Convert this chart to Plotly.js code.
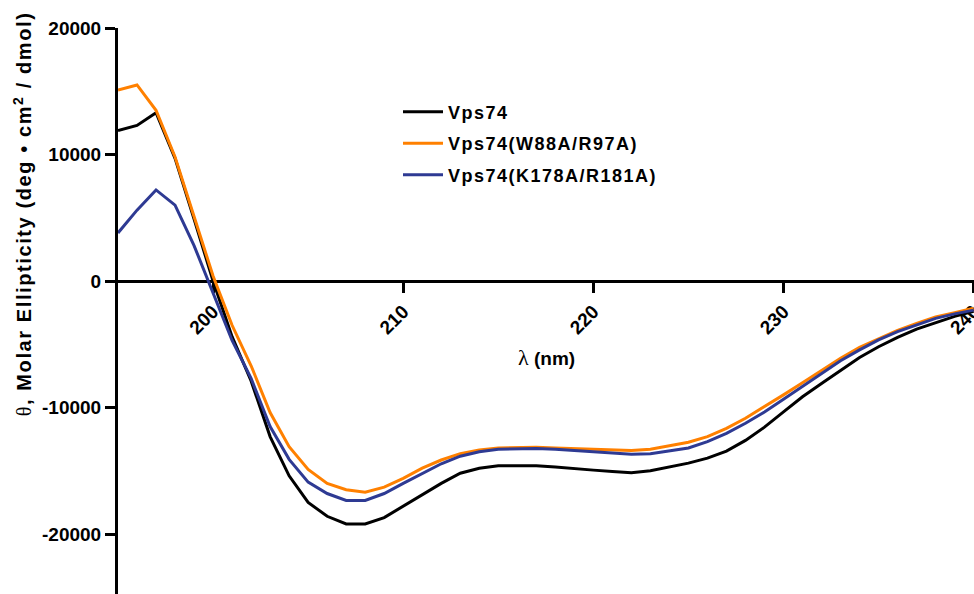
<!DOCTYPE html>
<html>
<head>
<meta charset="utf-8">
<script src="https://cdn.plot.ly/plotly-3.0.1.min.js"></script>
<style>
  html, body { margin: 0; padding: 0; background: #fff; overflow: hidden; }
  #chart { width: 986px; height: 594px; }
  .legendtext { letter-spacing: 1.5px; }
  g.annotation[data-index="0"] text { letter-spacing: 1.6px; }
</style>
</head>
<body>
<div id="chart"></div>
<script>
const wavelength = [195,196,197,198,199,200,201,202,203,204,205,206,207,208,209,210,211,212,213,214,215,216,217,218,219,220,221,222,223,224,225,226,227,228,229,230,231,232,233,234,235,236,237,238,239,240];

const vps74 = [11900,12300,13300,9700,4900,0,-4400,-7900,-12300,-15400,-17500,-18600,-19200,-19200,-18700,-17800,-16900,-16000,-15200,-14800,-14600,-14600,-14600,-14700,-14850,-14950,-15050,-15150,-15000,-14700,-14400,-14000,-13450,-12600,-11550,-10350,-9150,-8100,-7050,-6050,-5200,-4450,-3800,-3300,-2800,-2400];

const vps74W88A = [15100,15500,13500,9800,5100,400,-3500,-6700,-10400,-13100,-14900,-16000,-16500,-16700,-16300,-15600,-14800,-14150,-13650,-13350,-13200,-13150,-13150,-13200,-13250,-13300,-13400,-13400,-13300,-13050,-12750,-12300,-11650,-10850,-9950,-9000,-8050,-7050,-6100,-5250,-4550,-3900,-3350,-2850,-2500,-2150];

const vps74K178A = [3800,5600,7200,6000,2800,-900,-4700,-7700,-11500,-14100,-15900,-16800,-17350,-17350,-16800,-16000,-15200,-14450,-13850,-13500,-13300,-13250,-13250,-13300,-13400,-13500,-13600,-13700,-13650,-13450,-13200,-12700,-12050,-11250,-10350,-9350,-8350,-7300,-6300,-5450,-4650,-4000,-3450,-2950,-2600,-2300];

const seriesNames = ['Vps74', 'Vps74(W88A/R97A)', 'Vps74(K178A/R181A)'];
const seriesColors = ['#000000', '#ff8000', '#2e3a93'];
const xTicks = [200, 210, 220, 230, 240];
const yTicks = [-20000, -10000, 0, 10000, 20000];
const yTickText = ['-20000', '-10000', '0', '10000', '20000'];

const yMin = -24743, yMax = 20000;
const xMin = 195, xMax = 240.65;
const xZeroPos = (0 - yMin) / (yMax - yMin);

const FONT = 'Liberation Sans, Arial, Helvetica, sans-serif';
const allY = [vps74, vps74W88A, vps74K178A];

const traces = allY.map((ys, i) => ({
  x: wavelength,
  y: ys,
  type: 'scatter',
  mode: 'lines',
  name: seriesNames[i],
  legendgroup: 'g' + i,
  line: { color: seriesColors[i], width: 3 },
  hoverinfo: 'skip'
}));

const W = 986, H = 594, ML = 118, MR = 0, MT = 28, MB = 0;
const PW = W - ML - MR, PH = H - MT - MB;

const layout = {
  width: W,
  height: H,
  margin: { l: ML, r: MR, t: MT, b: MB },
  paper_bgcolor: '#fff',
  plot_bgcolor: '#fff',
  showlegend: true,
  legend: {
    x: (398 - ML) / PW, y: 0.884, xanchor: 'left', yanchor: 'top',
    bgcolor: 'rgba(0,0,0,0)',
    font: { family: FONT, size: 18, color: '#000', weight: 'bold' },
    tracegroupgap: 5,
    itemwidth: 40
  },
  xaxis: {
    range: [xMin, xMax],
    anchor: 'free',
    position: xZeroPos,
    showline: true, linecolor: '#000', linewidth: 3,
    showgrid: false, zeroline: false,
    ticks: 'outside', ticklen: 10, tickwidth: 3, tickcolor: '#000',
    tickvals: xTicks,
    ticktext: xTicks.map(String),
    tickangle: -45,
    tickfont: { family: FONT, size: 19, color: '#000', weight: 'bold' },
    automargin: false,
    layer: 'below traces'
  },
  yaxis: {
    range: [yMin, yMax],
    showline: true, linecolor: '#000', linewidth: 3,
    showgrid: false, zeroline: false,
    ticks: 'outside', ticklen: 10, tickwidth: 3, tickcolor: '#000',
    tickvals: yTicks,
    ticktext: yTickText,
    tickfont: { family: FONT, size: 19, color: '#000', weight: 'bold' },
    automargin: false,
    layer: 'below traces'
  },
  annotations: [
    {
      xref: 'paper', yref: 'paper',
      x: (22 - ML) / PW, y: (H - 214) / PH,
      xanchor: 'center', yanchor: 'middle',
      textangle: -90,
      showarrow: false,
      text: '<span style="font-family:Liberation Serif;font-weight:normal">θ</span>, Molar Ellipticity (deg • cm<sup>2</sup> / dmol)',
      font: { family: FONT, size: 20, color: '#000', weight: 'bold' }
    },
    {
      xref: 'paper', yref: 'paper',
      x: (546 - ML) / PW, y: (H - 357) / PH,
      xanchor: 'center', yanchor: 'middle',
      showarrow: false,
      text: '<span style="font-family:Liberation Serif;font-weight:normal;font-size:22px">λ</span> (nm)',
      font: { family: FONT, size: 19, color: '#000', weight: 'bold' }
    }
  ]
};

Plotly.newPlot('chart', traces, layout, { displayModeBar: false, staticPlot: true });
</script>
</body>
</html>
